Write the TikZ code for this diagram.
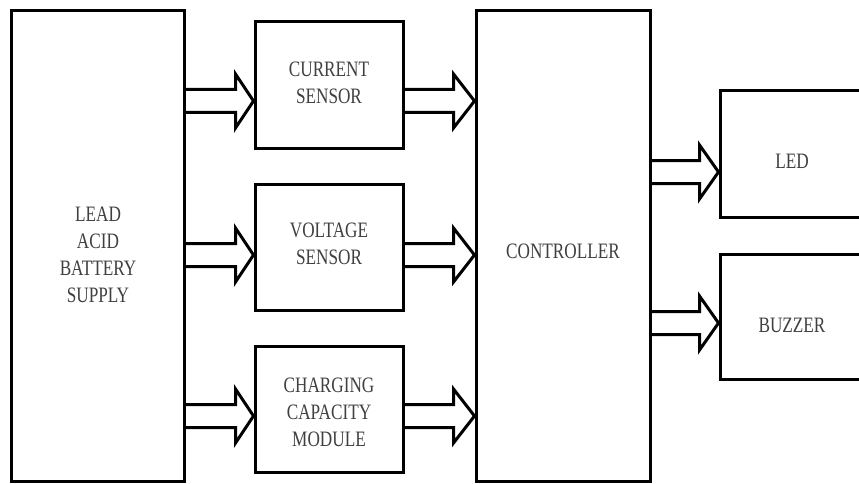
\documentclass[tikz,border=0pt]{standalone}
\usepackage{fontspec}
\setmainfont{Liberation Serif}
\usetikzlibrary{calc}
\newcommand\sqz[1]{\scalebox{0.86}[1.1]{#1}}
\newcommand\barrow[3]{%
  \draw[blockarr] let \p1=#1, \p2=#2 in
    (\x1,\y1-11.5pt) -- (\x2-#3pt,\y1-11.5pt) -- (\x2-#3pt,\y1-27pt) -- (\x2,\y1)
    -- (\x2-#3pt,\y1+27pt) -- (\x2-#3pt,\y1+11.5pt) -- (\x1,\y1+11.5pt);}
\begin{document}
\begin{tikzpicture}[x=1pt,y=-1pt,
  box/.style={draw=black, line width=3pt, fill=white, inner sep=0pt},
  smallbox/.style={box, minimum width=148pt, minimum height=126pt},
  tallbox/.style={box, minimum width=173pt, minimum height=470pt},
  lbl/.style={text=black!75, font=\fontsize{20}{24.5}\selectfont, inner sep=0pt},
  blockarr/.style={draw=black, line width=3pt, line join=miter}]
\useasboundingbox (0,0) rectangle (859,484);
\begin{scope}
\clip (0,0) rectangle (859,484);
\node[tallbox] (bat) at (97.5,246) {};
\node[smallbox] (cur) at (329,85) {};
\node[smallbox] (vol) at (329,247) {};
\node[smallbox] (chg) at (329,409) {};
\node[tallbox, minimum width=174pt] (ctl) at (563,246) {};
\node[smallbox, minimum width=150pt] (led) at (795,154) {};
\node[smallbox, minimum width=150pt, minimum height=125pt] (buz) at (795,316.5) {};

\node[lbl] (batT) at (98,256.5) {\sqz{\begin{tabular}{@{}c@{}}LEAD\\ACID\\BATTERY\\SUPPLY\end{tabular}}};
\node[lbl] (curT) at (329,85) {\sqz{\begin{tabular}{@{}c@{}}CURRENT\\SENSOR\end{tabular}}};
\node[lbl] (volT) at (329,246) {\sqz{\begin{tabular}{@{}c@{}}VOLTAGE\\SENSOR\end{tabular}}};
\node[lbl] (chgT) at (329,414) {\sqz{\begin{tabular}{@{}c@{}}CHARGING\\CAPACITY\\MODULE\end{tabular}}};
\node[lbl] (ctlT) at (563,253) {\sqz{\begin{tabular}{@{}c@{}}CONTROLLER\end{tabular}}};
\node[lbl] (ledT) at (792,163) {\sqz{\begin{tabular}{@{}c@{}}LED\end{tabular}}};
\node[lbl] (buzT) at (792,327) {\sqz{\begin{tabular}{@{}c@{}}BUZZER\end{tabular}}};

\barrow{(bat.east |- 0,101)}{(cur.west |- 0,101)}{18}
\barrow{(bat.east |- 0,255)}{(vol.west |- 0,255)}{18}
\barrow{(bat.east |- 0,416)}{(chg.west |- 0,416)}{18}
\barrow{(cur.east |- 0,101)}{(ctl.west |- 0,101)}{21}
\barrow{(vol.east |- 0,255)}{(ctl.west |- 0,255)}{21}
\barrow{(chg.east |- 0,416)}{(ctl.west |- 0,416)}{21}
\barrow{(ctl.east |- 0,172)}{(led.west |- 0,172)}{19}
\barrow{(ctl.east |- 0,323)}{(buz.west |- 0,323)}{19}
\end{scope}
\end{tikzpicture}
\end{document}
